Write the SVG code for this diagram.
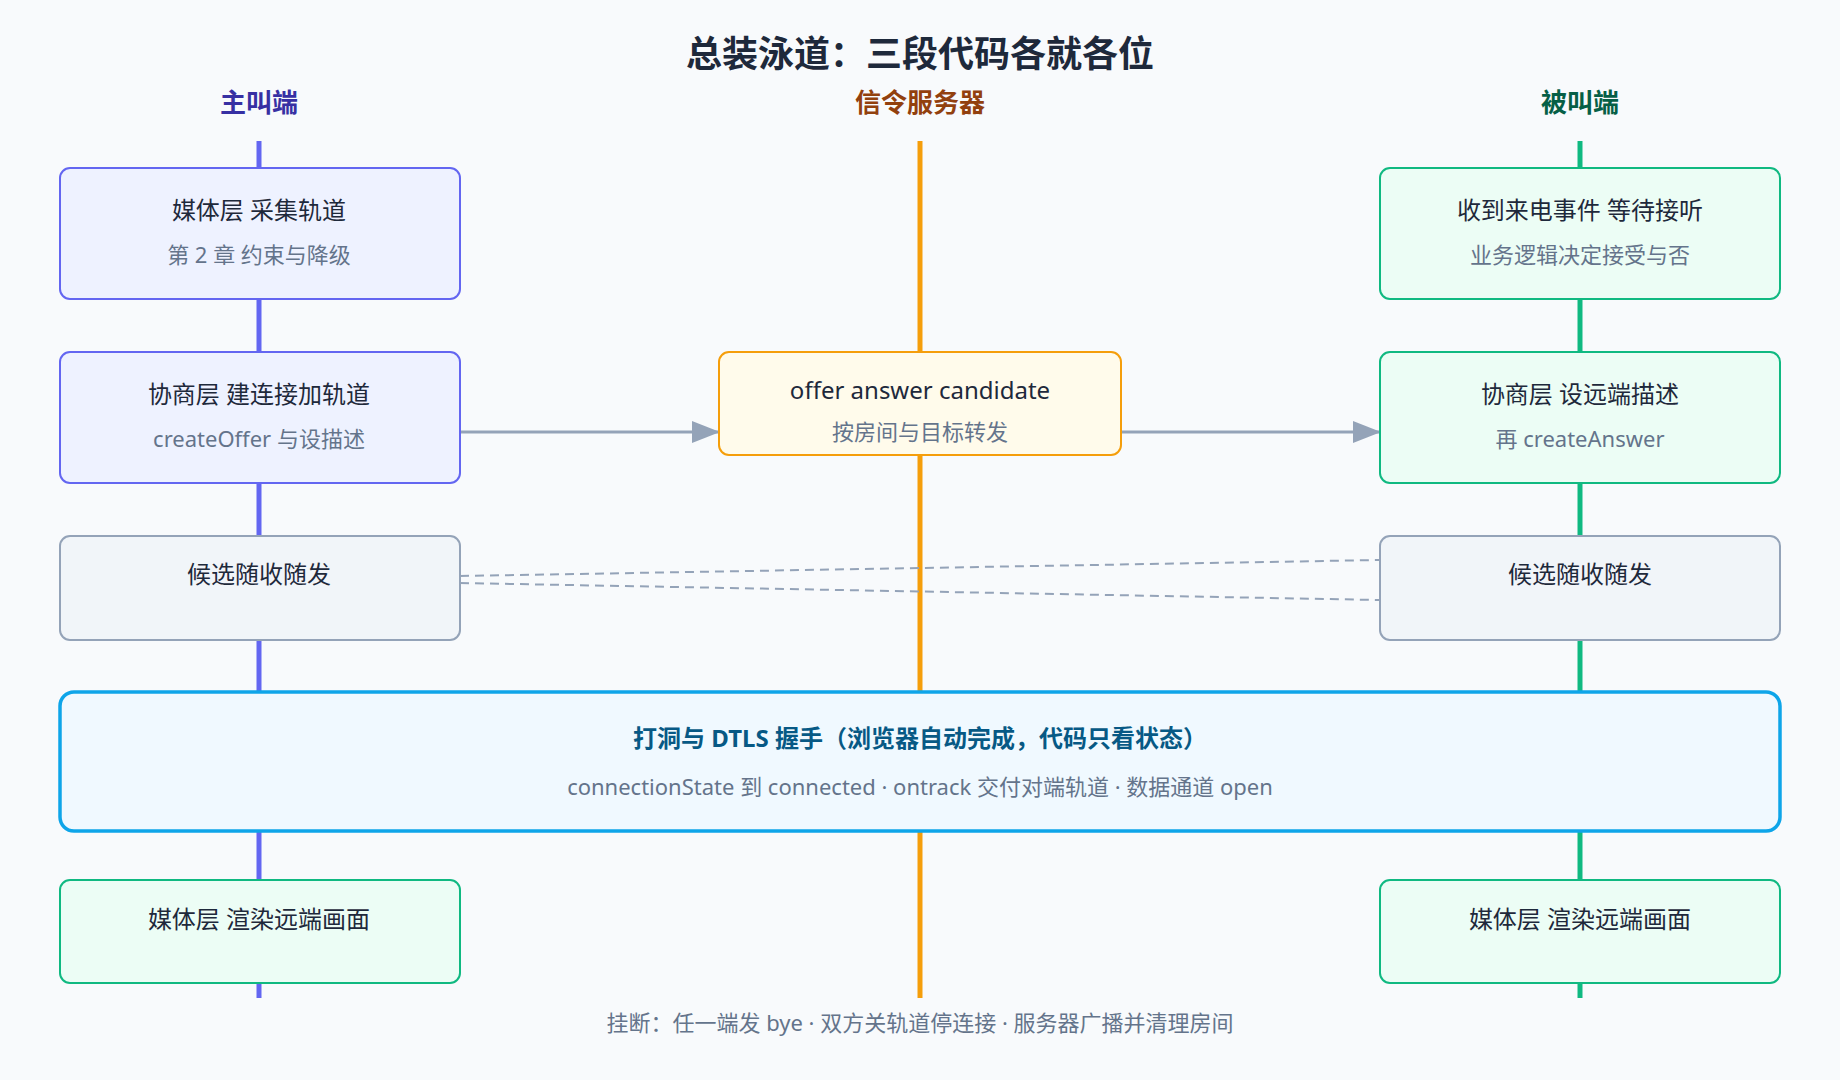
<svg xmlns="http://www.w3.org/2000/svg" width="1840" height="1080" viewBox="0 0 1840 1080">
<style>
text{font-family:"Noto Sans","Noto Sans CJK SC",sans-serif;text-anchor:middle}
.t{font-size:24px;fill:#1e293b}
.s{font-size:22px;fill:#64748b}
.h{font-size:26px;font-weight:bold}
.lane{stroke-width:5}
.box{stroke-width:2}
</style>
<defs><marker id="ar" markerWidth="12" markerHeight="10" refX="11" refY="5" orient="auto" markerUnits="userSpaceOnUse" viewBox="0 0 12 10"><path d="M0,0L12,5L0,10z" fill="#94a3b8"/></marker>
<marker id="a2" markerWidth="28" markerHeight="22" refX="27" refY="11" orient="auto" markerUnits="userSpaceOnUse"><path d="M0,0L28,11L0,22z" fill="#94a3b8"/></marker></defs>
<rect width="1840" height="1080" fill="#f8fafc"/>
<text x="920" y="67" style="font-size:36px;font-weight:bold;fill:#1e293b">总装泳道：三段代码各就各位</text>
<text x="259" y="112" class="h" fill="#3730a3">主叫端</text>
<text x="920" y="112" class="h" fill="#92400e">信令服务器</text>
<text x="1580" y="112" class="h" fill="#065f46">被叫端</text>
<g id="lanes">
<line x1="259" y1="141" x2="259" y2="998" stroke="#6366f1" class="lane"/>
<line x1="920" y1="141" x2="920" y2="998" stroke="#f59e0b" class="lane"/>
<line x1="1580" y1="141" x2="1580" y2="998" stroke="#10b981" class="lane"/>
</g>
<g id="connectors" fill="none">
<line x1="460" y1="432" x2="719" y2="432" stroke="#94a3b8" stroke-width="3" marker-end="url(#a2)"/>
<line x1="1121" y1="432" x2="1380" y2="432" stroke="#94a3b8" stroke-width="3" marker-end="url(#a2)"/>
<line x1="460" y1="576" x2="1380" y2="560" stroke="#94a3b8" stroke-width="2" stroke-dasharray="9 6"/>
<line x1="460" y1="583" x2="1380" y2="600" stroke="#94a3b8" stroke-width="2" stroke-dasharray="9 6"/>
</g>
<g id="n1"><rect x="60" y="168" width="400" height="131" rx="10" fill="#eef2ff" stroke="#6366f1" class="box"/>
<text x="259" y="219" class="t">媒体层 采集轨道</text><text x="259" y="263" class="s">第 2 章 约束与降级</text></g>
<g id="n2"><rect x="60" y="352" width="400" height="131" rx="10" fill="#eef2ff" stroke="#6366f1" class="box"/>
<text x="259" y="403" class="t">协商层 建连接加轨道</text><text x="259" y="447" class="s">createOffer 与设描述</text></g>
<g id="n3"><rect x="60" y="536" width="400" height="104" rx="10" fill="#f1f5f9" stroke="#94a3b8" class="box"/>
<text x="259" y="583" class="t">候选随收随发</text></g>
<g id="n4"><rect x="719" y="352" width="402" height="103" rx="10" fill="#fffbeb" stroke="#f59e0b" class="box"/>
<text x="920" y="399" class="t">offer answer candidate</text><text x="920" y="440" class="s">按房间与目标转发</text></g>
<g id="n5"><rect x="1380" y="168" width="400" height="131" rx="10" fill="#ecfdf5" stroke="#10b981" class="box"/>
<text x="1580" y="219" class="t">收到来电事件 等待接听</text><text x="1580" y="263" class="s">业务逻辑决定接受与否</text></g>
<g id="n6"><rect x="1380" y="352" width="400" height="131" rx="10" fill="#ecfdf5" stroke="#10b981" class="box"/>
<text x="1580" y="403" class="t">协商层 设远端描述</text><text x="1580" y="447" class="s">再 createAnswer</text></g>
<g id="n7"><rect x="1380" y="536" width="400" height="104" rx="10" fill="#f1f5f9" stroke="#94a3b8" class="box"/>
<text x="1580" y="583" class="t">候选随收随发</text></g>
<g id="n8"><rect x="60" y="692" width="1720" height="139" rx="14" fill="#f0f9ff" stroke="#0ea5e9" stroke-width="3.5"/>
<text x="920" y="747" style="font-size:24px;font-weight:bold;fill:#075985">打洞与 DTLS 握手（浏览器自动完成，代码只看状态）</text>
<text x="920" y="795" class="s">connectionState 到 connected · ontrack 交付对端轨道 · 数据通道 open</text></g>
<g id="n9"><rect x="60" y="880" width="400" height="103" rx="10" fill="#ecfdf5" stroke="#10b981" class="box"/>
<text x="259" y="928" class="t">媒体层 渲染远端画面</text></g>
<g id="n10"><rect x="1380" y="880" width="400" height="103" rx="10" fill="#ecfdf5" stroke="#10b981" class="box"/>
<text x="1580" y="928" class="t">媒体层 渲染远端画面</text></g>
<text x="920" y="1031" class="s">挂断：任一端发 bye · 双方关轨道停连接 · 服务器广播并清理房间</text>
</svg>
